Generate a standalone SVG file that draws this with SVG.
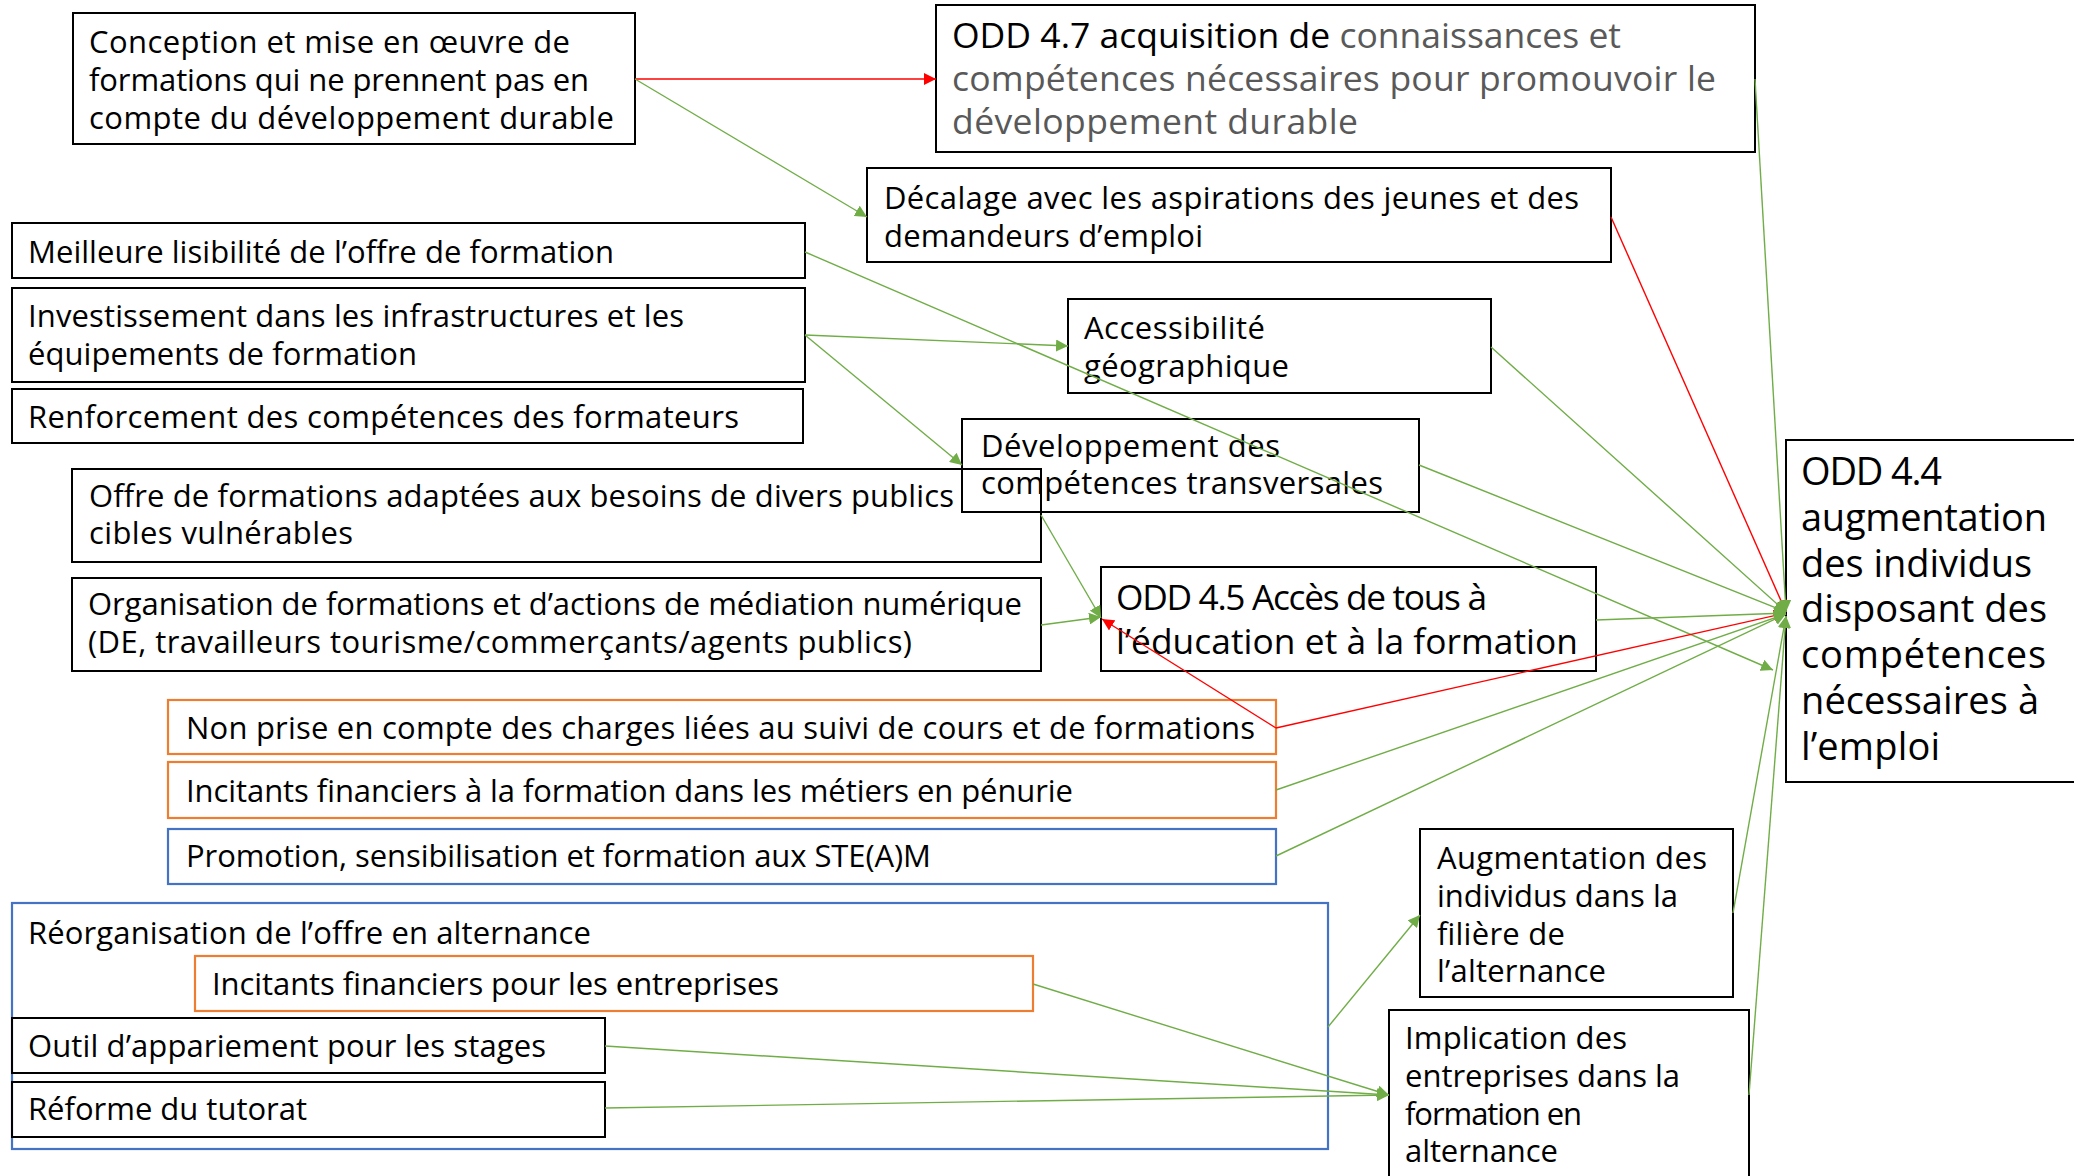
<svg xmlns="http://www.w3.org/2000/svg" width="2074" height="1176" viewBox="0 0 2074 1176">
<style>
.box{fill:none;stroke:#000;stroke-width:2}
.orange{stroke:#ED7D31;stroke-width:2.2}
.blue{stroke:#4472C4;stroke-width:2.2}
text{font-family:"Open Sans","Liberation Sans",sans-serif;font-size:31px;fill:#000}
.big{font-size:35.5px}
.mid{font-size:35.3px}
.xl{font-size:38px}
.grey{fill:#595959}
.g{stroke:#70AD47;stroke-width:1.4;fill:none}
.r{stroke:#FF0000;stroke-width:1.4;fill:none}
.ga{marker-end:url(#ag)}
.ra{marker-end:url(#ar)}
</style>
<defs>
<marker id="ag" markerUnits="userSpaceOnUse" markerWidth="13" markerHeight="12" refX="12" refY="6" orient="auto"><path d="M0,0 L12,6 L0,12 z" fill="#70AD47"/></marker>
<marker id="ar" markerUnits="userSpaceOnUse" markerWidth="13" markerHeight="12" refX="12" refY="6" orient="auto"><path d="M0,0 L12,6 L0,12 z" fill="#FF0000"/></marker>
</defs>
<rect width="2074" height="1176" fill="#fff"/>
<g id="nodes">
<g id="n-conception"><rect class="box" x="73" y="13" width="562" height="131"/>
<text x="89" y="53" textLength="481" lengthAdjust="spacing">Conception et mise en œuvre de</text><text x="89" y="91" textLength="500" lengthAdjust="spacing">formations qui ne prennent pas en</text><text x="89" y="128.5" textLength="525" lengthAdjust="spacing">compte du développement durable</text></g>
<g id="n-odd47"><rect class="box" x="936" y="5" width="819" height="147"/>
<text class="big" x="952" y="48" textLength="669" lengthAdjust="spacing">ODD 4.7 acquisition de <tspan class="grey">connaissances et</tspan></text><text class="big grey" x="952" y="91" textLength="764" lengthAdjust="spacing">compétences nécessaires pour promouvoir le</text><text class="big grey" x="952" y="134" textLength="406" lengthAdjust="spacing">développement durable</text></g>
<g id="n-decalage"><rect class="box" x="867" y="168" width="744" height="94"/>
<text x="884" y="208.5" textLength="695" lengthAdjust="spacing">Décalage avec les aspirations des jeunes et des</text><text x="884" y="246.5" textLength="319" lengthAdjust="spacing">demandeurs d’emploi</text></g>
<g id="n-meilleure"><rect class="box" x="12" y="223" width="793" height="55"/>
<text x="28" y="263" textLength="586" lengthAdjust="spacing">Meilleure lisibilité de l’offre de formation</text></g>
<g id="n-investissement"><rect class="box" x="12" y="288" width="793" height="94"/>
<text x="28" y="326.5" textLength="656" lengthAdjust="spacing">Investissement dans les infrastructures et les</text><text x="28" y="364.5" textLength="389" lengthAdjust="spacing">équipements de formation</text></g>
<g id="n-accessibilite"><rect class="box" x="1068" y="299" width="423" height="94"/>
<text x="1084" y="338.5" textLength="181" lengthAdjust="spacing">Accessibilité</text><text x="1084" y="376.5" textLength="205" lengthAdjust="spacing">géographique</text></g>
<g id="n-renforcement"><rect class="box" x="12" y="389" width="791" height="54"/>
<text x="28" y="428" textLength="711" lengthAdjust="spacing">Renforcement des compétences des formateurs</text></g>
<g id="n-developpement"><rect class="box" x="962" y="419" width="457" height="93"/>
<text x="981" y="457" textLength="299" lengthAdjust="spacing">Développement des</text><text x="981" y="494" textLength="402" lengthAdjust="spacing">compétences transversales</text></g>
<g id="n-offre"><rect class="box" x="72" y="469" width="969" height="93"/>
<text x="89" y="506.5" textLength="865" lengthAdjust="spacing">Offre de formations adaptées aux besoins de divers publics</text><text x="89" y="543.5" textLength="264" lengthAdjust="spacing">cibles vulnérables</text></g>
<g id="n-organisation"><rect class="box" x="72" y="578" width="969" height="93"/>
<text x="88" y="614.5" textLength="934" lengthAdjust="spacing">Organisation de formations et d’actions de médiation numérique</text><text x="88" y="653" textLength="824" lengthAdjust="spacing">(DE, travailleurs tourisme/commerçants/agents publics)</text></g>
<g id="n-odd45"><rect class="box" x="1101" y="567" width="495" height="104"/>
<text class="mid" x="1116" y="609.5" textLength="371" lengthAdjust="spacing">ODD 4.5 Accès de tous à</text><text class="mid" x="1116" y="653.5" textLength="462" lengthAdjust="spacing">l’éducation et à la formation</text></g>
<g id="n-odd44"><rect class="box" x="1786" y="440" width="310" height="342"/>
<text class="xl" x="1801" y="485" textLength="141" lengthAdjust="spacing">ODD 4.4</text><text class="xl" x="1801" y="531" textLength="246" lengthAdjust="spacing">augmentation</text><text class="xl" x="1801" y="577" textLength="231" lengthAdjust="spacing">des individus</text><text class="xl" x="1801" y="622" textLength="246" lengthAdjust="spacing">disposant des</text><text class="xl" x="1801" y="668" textLength="245" lengthAdjust="spacing">compétences</text><text class="xl" x="1801" y="714" textLength="238" lengthAdjust="spacing">nécessaires à</text><text class="xl" x="1801" y="760" textLength="139" lengthAdjust="spacing">l’emploi</text></g>
<g id="n-nonprise"><rect class="box orange" x="168" y="700" width="1108" height="54"/>
<text x="186" y="738.5" textLength="1069" lengthAdjust="spacing">Non prise en compte des charges liées au suivi de cours et de formations</text></g>
<g id="n-incitants"><rect class="box orange" x="168" y="762" width="1108" height="56"/>
<text x="186" y="801.5" textLength="887" lengthAdjust="spacing">Incitants financiers à la formation dans les métiers en pénurie</text></g>
<g id="n-promotion"><rect class="box blue" x="168" y="829" width="1108" height="55"/>
<text x="186" y="866.5" textLength="745" lengthAdjust="spacing">Promotion, sensibilisation et formation aux STE(A)M</text></g>
<g id="n-reorganisation"><rect class="box blue" x="12" y="903" width="1316" height="246"/>
<text x="28" y="943.5" textLength="563" lengthAdjust="spacing">Réorganisation de l’offre en alternance</text></g>
<g id="n-incitants-entreprises"><rect class="box orange" x="195" y="956" width="838" height="55"/>
<text x="212" y="994.5" textLength="567" lengthAdjust="spacing">Incitants financiers pour les entreprises</text></g>
<g id="n-outil"><rect class="box" x="12" y="1018" width="593" height="55"/>
<text x="28" y="1056.5" textLength="518" lengthAdjust="spacing">Outil d’appariement pour les stages</text></g>
<g id="n-reforme"><rect class="box" x="12" y="1082" width="593" height="55"/>
<text x="28" y="1119.5" textLength="279" lengthAdjust="spacing">Réforme du tutorat</text></g>
<g id="n-augmentation"><rect class="box" x="1420" y="829" width="313" height="168"/>
<text x="1437" y="868.5" textLength="270" lengthAdjust="spacing">Augmentation des</text><text x="1437" y="906.5" textLength="241" lengthAdjust="spacing">individus dans la</text><text x="1437" y="944.5" textLength="128" lengthAdjust="spacing">filière de</text><text x="1437" y="981.5" textLength="169" lengthAdjust="spacing">l’alternance</text></g>
<g id="n-implication"><rect class="box" x="1389" y="1010" width="360" height="200"/>
<text x="1405" y="1048.5" textLength="222" lengthAdjust="spacing">Implication des</text><text x="1405" y="1086.5" textLength="275" lengthAdjust="spacing">entreprises dans la</text><text x="1405" y="1124.5" textLength="177" lengthAdjust="spacing">formation en</text><text x="1405" y="1161.5" textLength="153" lengthAdjust="spacing">alternance</text></g>
</g>
<g id="connectors">
<line class="r ra" x1="635" y1="79" x2="936" y2="79"/>
<line class="g ga" x1="635" y1="79" x2="867" y2="217"/>
<line class="g ga" x1="805" y1="252" x2="1773" y2="670"/>
<line class="g ga" x1="805" y1="335" x2="1068" y2="346"/>
<line class="g ga" x1="805" y1="335" x2="962" y2="465"/>
<line class="g ga" x1="1041" y1="515" x2="1101" y2="618"/>
<line class="g ga" x1="1041" y1="625" x2="1101" y2="617"/>
<line class="r ra" x1="1276" y1="728" x2="1102" y2="619"/>
<line class="r ra" x1="1276" y1="728" x2="1786" y2="613"/>
<line class="r ra" x1="1611" y1="217" x2="1786" y2="612"/>
<line class="g ga" x1="1755" y1="79" x2="1786" y2="612"/>
<line class="g ga" x1="1491" y1="347" x2="1786" y2="612"/>
<line class="g ga" x1="1419" y1="465" x2="1786" y2="612"/>
<line class="g ga" x1="1596" y1="620" x2="1786" y2="613"/>
<line class="g ga" x1="1276" y1="790" x2="1786" y2="614"/>
<line class="g ga" x1="1276" y1="856" x2="1786" y2="614"/>
<line class="g ga" x1="1733" y1="913" x2="1786" y2="616"/>
<line class="g ga" x1="1749" y1="1095" x2="1786" y2="616"/>
<line class="g ga" x1="1328" y1="1027" x2="1420" y2="915"/>
<line class="g ga" x1="1033" y1="984" x2="1389" y2="1095"/>
<line class="g ga" x1="605" y1="1046" x2="1389" y2="1095"/>
<line class="g ga" x1="605" y1="1108" x2="1389" y2="1095"/>
</g>
</svg>
